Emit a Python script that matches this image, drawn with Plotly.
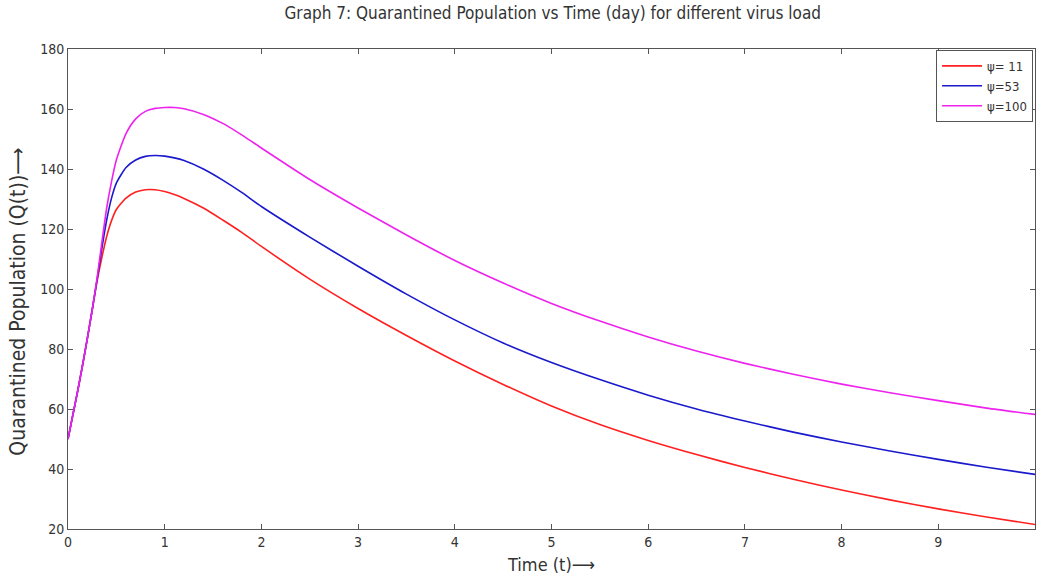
import plotly.graph_objects as go

t = [0, 0.05, 0.1, 0.15, 0.2, 0.25, 0.3, 0.35, 0.4, 0.45, 0.5, 0.6, 0.7, 0.8, 0.9, 1.0, 1.1, 1.2,
     1.4, 1.6, 1.8, 2.0, 2.5, 3.0, 3.5, 4.0, 4.5, 5.0, 5.5, 6.0, 6.5, 7.0, 7.5, 8.0, 8.5, 9.0, 9.5, 10.0]

q_psi11 = [50, 58, 66, 74.5, 83.5, 93, 102.5, 110.5, 117.5, 122.8, 126.5, 130.3, 132.3, 133.1, 133.1,
           132.5, 131.5, 130.2, 127, 123, 118.8, 114.2, 103.3, 93.5, 84.5, 76, 68.2, 61, 54.8, 49.5, 44.8,
           40.5, 36.6, 33, 29.7, 26.7, 24, 21.5]
q_psi53 = [50, 58, 66, 74.5, 83.5, 93, 103, 113.5, 123, 130.3, 135.3, 140.5, 143, 144.2, 144.5,
           144.3, 143.7, 142.8, 140, 136.3, 132.1, 127.5, 117.3, 107.6, 98.3, 89.7, 82, 75.5, 69.8, 64.6, 60,
           56, 52.3, 49, 46, 43.2, 40.6, 38.2]
q_psi100 = [50, 58, 66, 74.5, 83.5, 93, 103.5, 115.5, 127, 135.8, 143, 151.8, 156.7, 159.2, 160.2,
            160.5, 160.5, 160.1, 158.2, 155.2, 151.3, 147, 136.5, 127, 118, 109.5, 102, 95.2, 89.3, 84,
            79.3, 75.2, 71.6, 68.3, 65.4, 62.8, 60.3, 58.2]

series_names = ["ψ= 11", "ψ=53", "ψ=100"]
series_vals = [q_psi11, q_psi53, q_psi100]
series_colors = ["#ff2020", "#1a1acc", "#ee22ee"]

x_ticks = list(range(0, 11))
y_ticks = list(range(20, 181, 20))

FONT = "DejaVu Sans Condensed, Liberation Sans Narrow, DejaVu Sans, sans-serif"
TXT = "#333333"

fig = go.Figure()
for name, vals, col in zip(series_names, series_vals, series_colors):
    fig.add_trace(go.Scatter(x=t, y=vals, mode="lines", name=name,
                             line=dict(color=col, width=1.6, shape="spline", smoothing=0.6)))

axis_common = dict(showgrid=False, zeroline=False, showline=True, linecolor="#555555",
                   linewidth=1, mirror="ticks", ticks="inside", ticklen=5, tickcolor="#555555",
                   tickfont=dict(family=FONT, size=14, color=TXT))

fig.update_layout(
    width=1041, height=581,
    margin=dict(l=68, r=6, t=49, b=52),
    paper_bgcolor="white", plot_bgcolor="white",
    title=dict(text="Graph 7: Quarantined Population vs Time (day) for different virus load",
               x=0.531, xanchor="center", y=0.988, yanchor="top",
               font=dict(family=FONT, size=17, color=TXT)),
    xaxis=dict(range=[0, 10], tickvals=x_ticks,
               title=dict(text="Time (t)⟶", font=dict(family=FONT, size=18, color=TXT), standoff=9),
               **axis_common),
    yaxis=dict(range=[20, 180], tickvals=y_ticks, **axis_common),
    legend=dict(x=0.998, y=0.998, xanchor="right", yanchor="top", bordercolor="#555555",
                borderwidth=1, bgcolor="white", font=dict(family=FONT, size=13, color=TXT),
                tracegroupgap=0, itemwidth=40),
    showlegend=True,
)

fig.add_annotation(text="Quarantined Population (Q(t))⟶", textangle=-90,
                   xref="paper", yref="paper", x=-0.052, y=0.473,
                   xanchor="center", yanchor="middle", showarrow=False,
                   font=dict(family=FONT, size=21, color=TXT))

fig.write_html("out.html")
